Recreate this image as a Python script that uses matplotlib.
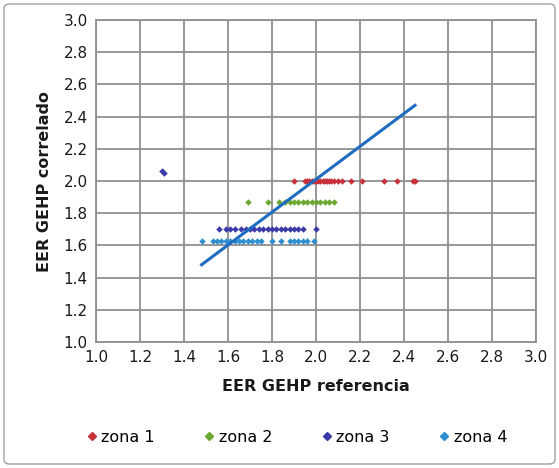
import matplotlib
matplotlib.use("Agg")
import matplotlib.pyplot as plt
from matplotlib.patches import FancyBboxPatch
from matplotlib.lines import Line2D

zona1_x = [1.90, 1.95, 1.96, 1.97, 1.98, 1.99, 2.00, 2.01, 2.02, 2.03, 2.04, 2.05, 2.06, 2.07, 2.08, 2.10, 2.12, 2.16, 2.21, 2.31, 2.37, 2.44, 2.45]
zona1_y = [2.00] * len(zona1_x)
zona2_x = [1.69, 1.78, 1.83, 1.86, 1.88, 1.90, 1.92, 1.94, 1.96, 1.98, 2.00, 2.02, 2.04, 2.06, 2.08]
zona2_y = [1.87] * len(zona2_x)
zona3_x = [1.56, 1.59, 1.61, 1.63, 1.66, 1.68, 1.70, 1.72, 1.74, 1.76, 1.78, 1.80, 1.82, 1.84, 1.86, 1.88, 1.90, 1.92, 1.94, 2.00, 1.30, 1.31]
zona3_y = [1.70] * 20 + [2.06, 2.05]
zona4_x = [1.48, 1.53, 1.55, 1.57, 1.59, 1.61, 1.63, 1.65, 1.67, 1.69, 1.71, 1.73, 1.75, 1.80, 1.84, 1.88, 1.90, 1.92, 1.94, 1.96, 1.99]
zona4_y = [1.63] * len(zona4_x)
trend_x = [1.48, 2.45]
trend_y = [1.48, 2.47]

series = [("zona 1", zona1_x, zona1_y, "#C8303A"),
          ("zona 2", zona2_x, zona2_y, "#6BA832"),
          ("zona 3", zona3_x, zona3_y, "#3A3AA8"),
          ("zona 4", zona4_x, zona4_y, "#2E8FD0")]

W, H = 559, 468
fig = plt.figure(figsize=(W/100, H/100), dpi=100)
fig.patches.append(FancyBboxPatch((4/W, 4/H), 1-8/W, 1-8/H, boxstyle="round,pad=0,rounding_size=0.01",
                                  transform=fig.transFigure, fill=False, ec="#A0A0A0", lw=1.0))
ax = fig.add_axes([96/W, 1-342/H, (536-96)/W, (342-20)/H])
for name, xs, ys, c in series:
    ax.scatter(xs, ys, marker="D", s=11, color=c, zorder=3, linewidths=0)
ax.plot(trend_x, trend_y, color="#1E6CC0", lw=2.2, zorder=4)

ax.set_xlim(1.0, 3.0)
ax.set_ylim(1.0, 3.0)
ticks = [1.0, 1.2, 1.4, 1.6, 1.8, 2.0, 2.2, 2.4, 2.6, 2.8, 3.0]
ax.set_xticks(ticks)
ax.set_yticks(ticks)
ax.set_xticklabels([f"{t:.1f}" for t in ticks])
ax.set_yticklabels([f"{t:.1f}" for t in ticks])
ax.grid(True, color="#909090", lw=1.3)
ax.set_axisbelow(True)
for s in ax.spines.values():
    s.set_color("#909090")
    s.set_linewidth(1.3)
ax.tick_params(length=0, labelsize=11, pad=6, colors="#1A1A1A")
ax.set_xlabel("EER GEHP referencia", fontsize=11.5, fontweight="bold", labelpad=10, color="#1A1A1A")
ax.set_ylabel("EER GEHP correlado", fontsize=11.5, fontweight="bold", labelpad=8, color="#1A1A1A")

handles = [Line2D([], [], marker="D", ls="none", color=c, markersize=3.8) for _, _, _, c in series]
fig.legend(handles, [n for n, _, _, _ in series], loc="center", bbox_to_anchor=(0.53, 1-437/H),
           ncol=4, frameon=False, fontsize=11.5, handletextpad=0.2, columnspacing=3.0, handlelength=0.8)

fig.savefig("out.png", dpi=100)
